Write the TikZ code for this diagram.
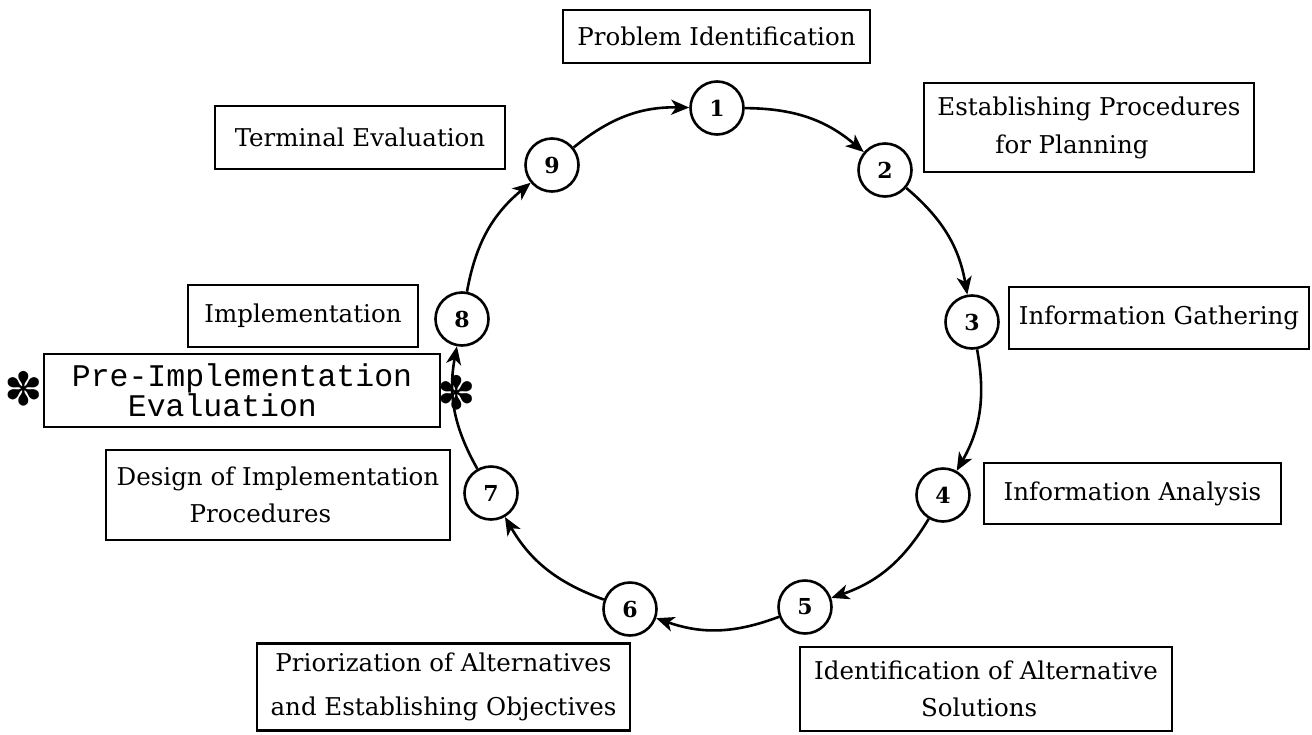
\documentclass[tikz,border=0pt]{standalone}
\usepackage{fontspec}
\setmainfont{DejaVu Serif}
\newfontfamily\monof{Liberation Mono}
\newfontfamily\symf{DejaVu Sans}
\usetikzlibrary{arrows.meta}
\begin{document}
\begin{tikzpicture}[x=1pt,y=-1pt,
  stage/.style={circle, draw, line width=2.6pt, minimum size=53pt, inner sep=0pt,
                font=\fontsize{22}{26}\selectfont\bfseries},
  lbl/.style={draw, line width=2.4pt, inner sep=0pt, font=\fontsize{24.5}{38}\selectfont},
  flow/.style={line width=2.6pt, -{Stealth[length=18pt,width=15pt,inset=5pt]}, bend left=20},
  star/.style={inner sep=0pt, font=\symf\fontsize{46}{46}\selectfont}]
\useasboundingbox (0,0) rectangle (1312,734);
\fill[white] (0,0) rectangle (1312,734);

% stage circles
\node[stage] (n1) at (717,108) {1};
\node[stage] (n2) at (885,170) {2};
\node[stage] (n3) at (972,322) {3};
\node[stage] (n4) at (943,495) {4};
\node[stage] (n5) at (805,607) {5};
\node[stage] (n6) at (630,609) {6};
\node[stage] (n7) at (491,493) {7};
\node[stage] (n8) at (462,319) {8};
\node[stage] (n9) at (552,165) {9};

% label boxes
\node[lbl, minimum width=307pt, minimum height=53pt] (bPI) at (716.5,36.5) {Problem Identification};
\node[lbl, minimum width=330pt, minimum height=89pt, align=left] (bEP) at (1089,127.5)
  {Establishing Procedures\\\hspace*{58pt}for Planning};
\node[lbl, minimum width=300pt, minimum height=62pt] (bIG) at (1159,318) {Information Gathering};
\node[lbl, minimum width=297pt, minimum height=61pt] (bIA) at (1132.5,493.5) {Information Analysis};
\node[lbl, minimum width=372pt, minimum height=84pt, align=left,
      font=\fontsize{24.5}{37}\selectfont] (bID) at (986,689)
  {Identification of Alternative\\\hspace*{107pt}Solutions};
\node[lbl, minimum width=373pt, minimum height=87pt, align=center,
      font=\fontsize{24.5}{44}\selectfont] (bPR) at (443.5,687)
  {Priorization of Alternatives\\and Establishing Objectives};
\node[lbl, minimum width=344pt, minimum height=90pt, align=left,
      font=\fontsize{24.5}{37}\selectfont] (bDE) at (278,495)
  {Design of Implementation\\\hspace*{73pt}Procedures};
\node[lbl, minimum width=396pt, minimum height=73pt, align=left,
      font=\monof\fontsize{31.5}{29}\selectfont] (bPE) at (242,390.5)
  {Pre-Implementation\\\hspace*{56pt}Evaluation};
\node[lbl, minimum width=230pt, minimum height=62pt] (bIM) at (303,316) {Implementation};
\node[lbl, minimum width=290pt, minimum height=63pt] (bTE) at (360,137.5) {Terminal Evaluation};

% cycle connectors
\foreach \a/\b in {n1/n2,n2/n3,n3/n4,n4/n5,n5/n6,n6/n7,n7/n8,n8/n9,n9/n1}
  \draw[flow] (\a) to (\b);

% asterisks
\node[star] (s1) at (24,389) {✽};
\node[star] (s2) at (457,393) {✽};
\end{tikzpicture}
\end{document}
